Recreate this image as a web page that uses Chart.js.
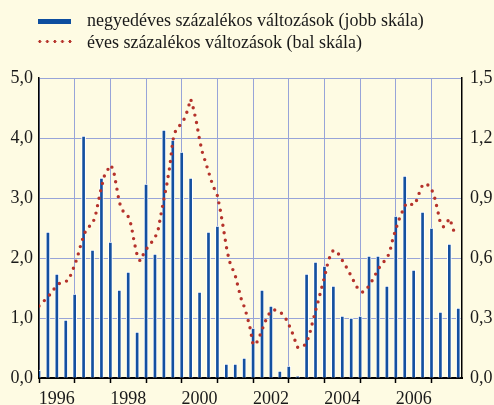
<!DOCTYPE html>
<html>
<head>
<meta charset="utf-8">
<script src="https://cdn.jsdelivr.net/npm/chart.js@4"></script>
<style>
  html, body { margin: 0; padding: 0; background: #fefbe3; }
  #wrap { position: relative; width: 494px; height: 405px; }
  .leg { position: absolute; font-family: 'Liberation Serif', serif; font-size: 18px; color: #1a1a1a; white-space: nowrap; line-height: 20px; }
  .sym { position: absolute; }
</style>
</head>
<body>
<div id="wrap">
  <canvas id="myChart"></canvas>
  <div class="sym" style="left:38px; top:19px; width:33px; height:5px; background:#0d4ea0;"></div>
  <div class="leg" style="left:87px; top:10px;">negyedéves százalékos változások (jobb skála)</div>
  <div class="sym" style="left:35.7px; top:39.5px; width:37.8px; height:3px; background-image:radial-gradient(circle, #b5322b 1.3px, transparent 1.7px); background-size:7.55px 3px; background-repeat:repeat-x;"></div>
  <div class="leg" style="left:87px; top:32px;">éves százalékos változások (bal skála)</div>
</div>
<script>
// quarterly changes, 1996 Q1 .. 2007 Q4 (right scale)
const quarterly = [
    0.04, 0.73, 0.52, 0.29,
    0.42, 1.21, 0.64, 1.00,
    0.68, 0.44, 0.53, 0.23,
    0.97, 0.62, 1.24, 1.19,
    1.13, 1.00, 0.43, 0.73,
    0.76, 0.07, 0.07, 0.10,
    0.25, 0.44, 0.36, 0.035,
    0.06, 0.01, 0.52, 0.58,
    0.56, 0.46, 0.31, 0.30,
    0.31, 0.61, 0.61, 0.46,
    0.81, 1.01, 0.54, 0.83,
    0.75, 0.33, 0.67, 0.35,
];
// annual changes, monthly (left scale)
const annual = [
    1.20, 1.25, 1.30, 1.35, 1.41, 1.48, 1.54, 1.58, 1.60, 1.61, 1.63, 1.76,
    1.88, 2.03, 2.21, 2.37, 2.49, 2.53, 2.57, 2.71, 2.95, 3.18, 3.37, 3.46,
    3.55, 3.48, 3.21, 2.93, 2.80, 2.74, 2.69, 2.55, 2.27, 2.05, 1.95, 2.05,
    2.14, 2.21, 2.27, 2.34, 2.45, 2.72, 2.98, 3.23, 3.53, 3.96, 4.13, 4.19,
    4.25, 4.33, 4.47, 4.65, 4.48, 4.25, 3.97, 3.75, 3.60, 3.44, 3.28, 3.15,
    3.04, 2.79, 2.50, 2.19, 1.95, 1.83, 1.71, 1.51, 1.32, 1.19, 1.03, 0.83,
    0.55, 0.57, 0.67, 0.80, 0.93, 1.04, 1.11, 1.14, 1.12, 1.10, 1.06, 0.99,
    0.89, 0.78, 0.64, 0.51, 0.51, 0.53, 0.59, 0.73, 0.93, 1.12, 1.30, 1.49,
    1.68, 1.89, 2.05, 2.13, 2.11, 2.05, 1.96, 1.88, 1.79, 1.70, 1.60, 1.51,
    1.45, 1.43, 1.47, 1.54, 1.62, 1.71, 1.81, 1.88, 1.94, 1.99, 2.11, 2.32,
    2.48, 2.63, 2.75, 2.87, 2.92, 2.90, 2.88, 2.96, 3.10, 3.22, 3.24, 3.21,
    3.15, 3.02, 2.81, 2.58, 2.52, 2.57, 2.66, 2.54, 2.36,
];
const yearLabels = ['1996', '1998', '2000', '2002', '2004', '2006'];

const gridColor = '#98a4d8';
const font = { family: 'Liberation Serif', size: 18 };

const data = {
    datasets: [{
        type: 'line',
        data: annual.map((v, m) => ({ x: m / 3, y: v })),
        yAxisID: 'y',
        borderColor: '#b5322b',
        borderWidth: 3.4,
        borderDash: [0, 7.6],
        borderCapStyle: 'round',
        pointRadius: 0,
        tension: 0,
        order: 0,
    }, {
        type: 'bar',
        data: quarterly.map((v, i) => ({ x: i, y: v })),
        yAxisID: 'y1',
        backgroundColor: '#1450a0',
        borderColor: '#ffffff',
        borderWidth: 1,
        barThickness: 4,
        order: 1,
    }]
};

const options = {
    responsive: true,
    maintainAspectRatio: false,
    animation: false,
    layout: { padding: { top: 78 } },
    scales: {
        x: {
            type: 'linear',
            offset: false,
            min: 0,
            max: 47.42,
            afterBuildTicks: (scale) => {
                const t = [];
                for (let v = 0; v <= 46; v += 2) t.push({ value: v });
                scale.ticks = t;
            },
            afterFit: (scale) => { scale.height = 27; },
            grid: {
                offset: false,
                color: (c) => c.tick && c.tick.value % 4 === 0 ? gridColor : 'rgba(0,0,0,0)',
                tickColor: (c) => c.tick && c.tick.value % 4 === 0 ? '#000' : 'rgba(0,0,0,0)',
                tickLength: 5,
                tickWidth: 1.5,
            },
            border: { color: '#000', width: 2 },
            ticks: {
                font: font,
                color: '#1a1a1a',
                padding: 5,
                maxRotation: 0,
                autoSkip: false,
                callback: (v) => v % 8 === 2 ? yearLabels[(v - 2) / 8] : '',
            },
        },
        y: {
            position: 'left',
            min: 0,
            max: 5,
            afterFit: (scale) => { scale.width = 39; },
            grid: { color: gridColor, drawTicks: false },
            border: { color: '#000', width: 1.5 },
            ticks: {
                stepSize: 1,
                font: font,
                color: '#1a1a1a',
                padding: 6,
                callback: (v) => v.toFixed(1).replace('.', ','),
            },
        },
        y1: {
            position: 'right',
            min: 0,
            max: 1.5,
            afterFit: (scale) => { scale.width = 32; },
            grid: { drawOnChartArea: false, drawTicks: false },
            border: { color: '#000', width: 1.5 },
            ticks: {
                stepSize: 0.3,
                font: font,
                color: '#1a1a1a',
                padding: 8,
                callback: (v) => v.toFixed(1).replace('.', ','),
            },
        },
    },
    plugins: {
        legend: { display: false },
        tooltip: { enabled: false },
    }
};

const myChart = new Chart(
    document.getElementById('myChart'),
    { data: data, options: options }
);
</script>
</body>
</html>
